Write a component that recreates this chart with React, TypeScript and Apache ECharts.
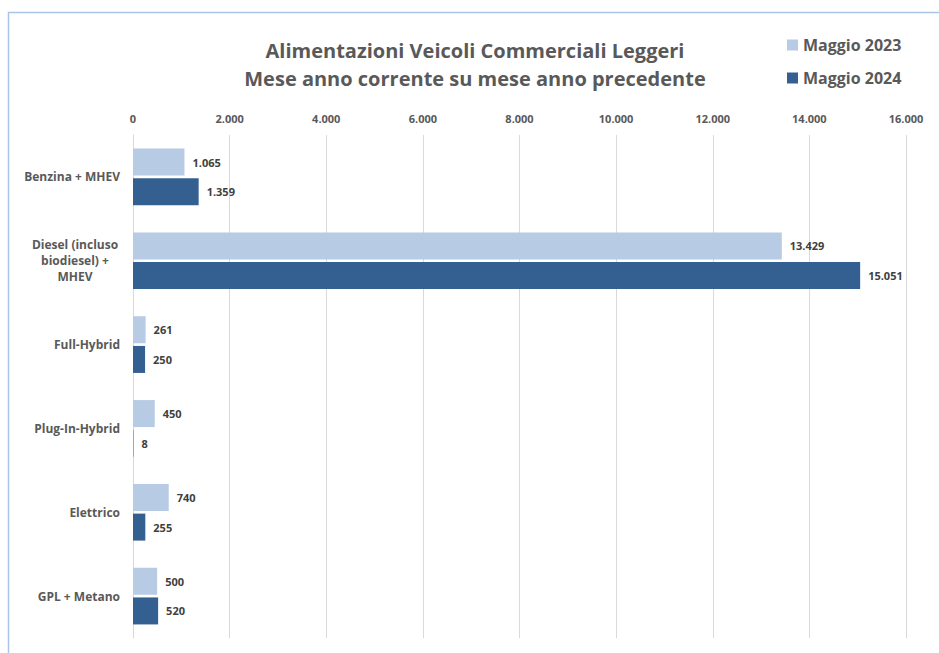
import React, { useEffect, useRef } from "react";
import * as echarts from "echarts";

const categories = [
  "Benzina + MHEV",
  "Diesel (incluso\nbiodiesel) +\nMHEV",
  "Full-Hybrid",
  "Plug-In-Hybrid",
  "Elettrico",
  "GPL + Metano",
];
const series2023 = [1065, 13429, 261, 450, 740, 500];
const series2024 = [1359, 15051, 250, 8, 255, 520];
const seriesNames = ["Maggio 2023", "Maggio 2024"];
const titleLines = ["Alimentazioni Veicoli Commerciali Leggeri", "Mese anno corrente su mese anno precedente"];

const fmt = (v: number) => String(v).replace(/\B(?=(\d{3})+(?!\d))/g, ".");

export default function App() {
  const ref = useRef<HTMLDivElement>(null);
  useEffect(() => {
    if (!ref.current) return;
    const chart = echarts.init(ref.current, null, { renderer: "svg" });
    const font = "'Open Sans', 'Noto Sans', sans-serif";
    const labelStyle = {
      show: true,
      position: "right" as const,
      distance: 8,
      formatter: (p: any) => fmt(p.value),
      color: "#404040",
      fontWeight: "bold" as const,
      fontSize: 11,
      fontFamily: font,
    };
    chart.setOption({
      animation: false,
      backgroundColor: "#ffffff",
      title: {
        text: titleLines.join("\n"),
        left: 470,
        top: 31,
        textAlign: "center",
        textStyle: {
          color: "#595959",
          fontSize: 20,
          fontWeight: "bold",
          fontFamily: font,
          lineHeight: 28,
        },
      },
      legend: {
        orient: "vertical",
        left: 782,
        top: 32,
        itemWidth: 11,
        itemHeight: 11,
        itemGap: 17,
        icon: "rect",
        data: seriesNames,
        textStyle: {
          color: "#595959",
          fontSize: 16,
          fontWeight: "bold",
          fontFamily: font,
        },
      },
      graphic: [
        {
          type: "rect",
          shape: { x: 8.5, y: 12.5, width: 1000, height: 1000 },
          style: { fill: "none", stroke: "#a9c5e6", lineWidth: 1.5 },
          silent: true,
        },
      ],
      grid: { left: 133, right: 33, top: 135, bottom: 15, containLabel: false },
      xAxis: {
        type: "value",
        position: "top",
        min: 0,
        max: 16000,
        interval: 2000,
        axisLine: { show: false },
        axisTick: { show: false },
        splitLine: { lineStyle: { color: "#d9d9d9", width: 1 } },
        axisLabel: {
          formatter: (v: number) => fmt(v),
          color: "#595959",
          fontSize: 11,
          fontWeight: "bold",
          fontFamily: font,
          margin: 11,
        },
      },
      yAxis: {
        type: "category",
        inverse: true,
        data: categories,
        axisLine: { show: true, lineStyle: { color: "#d9d9d9", width: 1 } },
        axisTick: { show: false },
        axisLabel: {
          margin: 13,
          color: "#595959",
          fontSize: 12,
          fontWeight: "bold",
          fontFamily: font,
          formatter: (v: string) =>
            v.includes("\n")
              ? v
                  .split("\n")
                  .map((l) => `{c|${l}}`)
                  .join("\n")
              : v,
          rich: {
            c: {
              width: 90,
              align: "center",
              color: "#595959",
              fontSize: 12,
              fontWeight: "bold",
              fontFamily: font,
              lineHeight: 16,
            },
          },
        },
      },
      series: [
        {
          name: seriesNames[0],
          type: "bar",
          data: series2023,
          barWidth: 27,
          barGap: "10%",
          itemStyle: { color: "#b7cbe5" },
          label: labelStyle,
        },
        {
          name: seriesNames[1],
          type: "bar",
          data: series2024,
          barWidth: 27,
          barGap: "10%",
          itemStyle: { color: "#345f91" },
          label: labelStyle,
        },
      ],
    });
    return () => chart.dispose();
  }, []);
  return <div ref={ref} style={{ position: "fixed", left: 0, top: 0, width: 939, height: 653 }} />;
}
